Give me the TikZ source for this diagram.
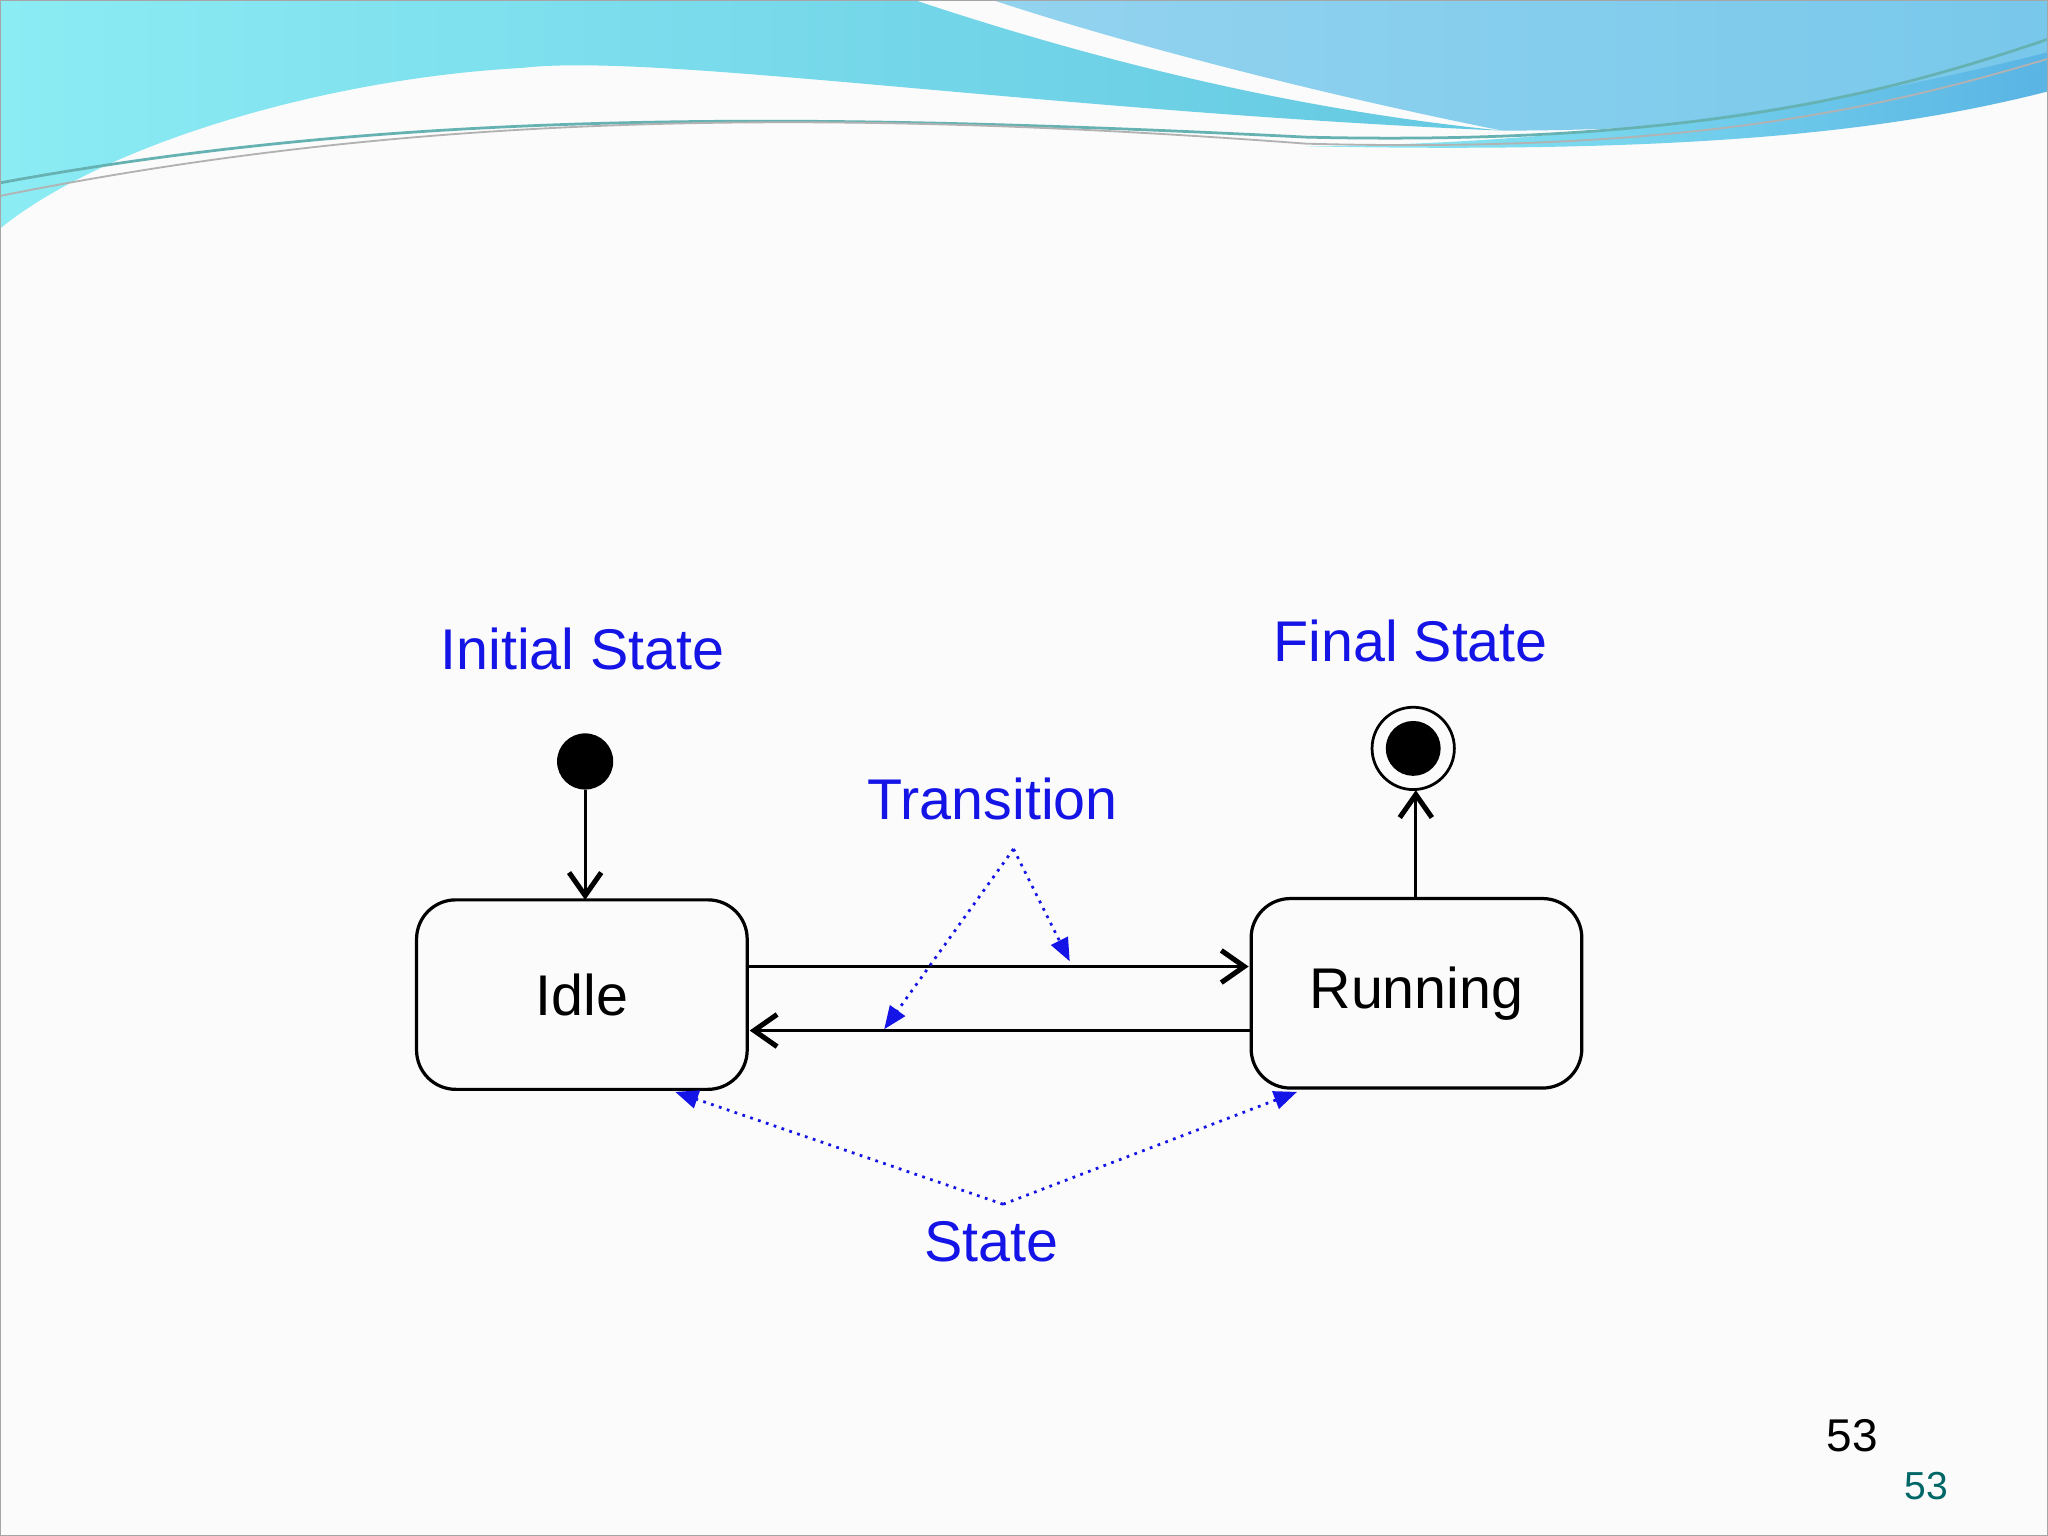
\documentclass[tikz,border=0pt]{standalone}
\usepackage{fontspec}
\setmainfont{Liberation Sans}
\usetikzlibrary{arrows.meta}
\definecolor{lab}{RGB}{20,20,230}
\definecolor{cyanA}{RGB}{140,236,244}
\definecolor{cyanB}{RGB}{100,200,225}
\definecolor{blueR}{RGB}{120,200,235}
\begin{document}
\begin{tikzpicture}[x=0.01cm,y=-0.01cm,
  state/.style={draw,rounded corners=0.3cm,minimum width=2.53cm,minimum height=1.45cm,font=\fontsize{12.5}{15}\selectfont,line width=0.7pt},
  lbl/.style={text=lab,font=\fontsize{12.5}{15}\selectfont},
  tr/.style={line width=0.6pt,-{Straight Barb[length=5pt,width=7pt,line width=1.1pt]}},
  pt/.style={lab,dash pattern=on 0.6pt off 1.2pt,line width=0.6pt},
  pta/.style={pt,-{Triangle[length=5pt,width=4pt]}}]
\useasboundingbox (0,0) rectangle (1568,1176);
\fill[white!97!gray] (0,0) rectangle (1568,1176);
% header
\shade[left color=cyanA,right color=cyanB] (0,0)--(700,0) .. controls (850,50) and (1000,85) .. (1150,100) .. controls (800,85) and (500,40) .. (400,52) .. controls (250,60) and (80,110) .. (0,175) -- cycle;
\shade[left color=blueR!80!white,right color=blueR] (760,0)--(1568,0)--(1568,55) .. controls (1450,85) and (1300,100) .. (1150,100) .. controls (1000,70) and (850,30) .. (760,0) -- cycle;
\shade[left color=cyanA,right color=cyanB!90!blue] (1000,112) .. controls (1250,110) and (1450,70) .. (1568,40) -- (1568,70) .. controls (1450,100) and (1300,118) .. (1000,112) -- cycle;
\draw[teal!60,line width=0.6pt] (0,140) .. controls (300,85) and (600,85) .. (1000,105) .. controls (1300,112) and (1450,70) .. (1568,30);
\draw[gray!60,line width=0.4pt] (0,150) .. controls (300,90) and (600,80) .. (1000,110) .. controls (1300,118) and (1450,80) .. (1568,45);
\draw[gray!70] (0,0) rectangle (1568,1176);
% diagram
\node[state] (idle) at (445.5,761.5) {Idle};
\node[state] (run) at (1084.5,760.5) {Running};
\node[circle,fill=black,minimum size=0.43cm,inner sep=0] (init) at (448,583) {};
\node[circle,draw,line width=0.6pt,minimum size=0.63cm,inner sep=0] (fin) at (1082,573) {};
\node[circle,fill=black,minimum size=0.42cm,inner sep=0] (finin) at (1082,573) {};
\draw[tr] (init) -- (448,689);
\draw[tr] (1084,688) -- (1084,605);
\draw[tr] (572,740) -- (956,740);
\draw[tr] (958,789) -- (574,789);
\node[lbl] (tl) at (760,612) {Transition};
\node[lbl] (il) at (446,497) {Initial State};
\node[lbl] (fl) at (1080,491) {Final State};
\node[lbl] (sl) at (759,951) {State};
\coordinate (t0) at (776,650);
\coordinate (s0) at (768,922);
\draw[pta] (t0) -- (819,736);
\draw[pta] (t0) -- (677,788);
\draw[pta] (s0) -- (517,836);
\draw[pta] (s0) -- (993,836);
\node[font=\fontsize{10}{12}\selectfont] (p1) at (1418,1099) {53};
\node[font=\fontsize{8.5}{10}\selectfont,text=teal!80!black] (p2) at (1475,1138) {53};
\end{tikzpicture}
\end{document}
